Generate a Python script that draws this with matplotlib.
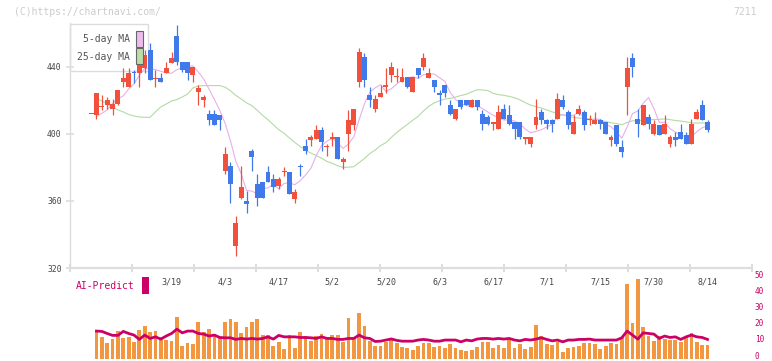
import numpy as np
import pandas as pd
import matplotlib
matplotlib.use("Agg")
import matplotlib.pyplot as plt
from matplotlib.patches import Rectangle
from matplotlib.transforms import ScaledTranslation

# daily candles, oldest first (last one is 8/14)
opens = [412, 411, 416, 417, 415, 418, 431, 428, 437, 436,
         439, 450, 433, 433, 436, 442, 458, 443, 443, 435,
         425, 420, 412, 412, 411, 378, 381, 333, 362, 360,
         390, 370, 371, 377, 373, 369, 377, 377, 361, 381,
         393, 396, 397, 402, 392, 397, 398, 383, 400, 405,
         431, 446, 423, 415, 422, 428, 435, 434, 431, 434,
         425, 439, 440, 433, 432, 424, 429, 417, 409, 420,
         420, 416, 420, 412, 410, 406, 403, 415, 411, 407,
         407, 397, 394, 405, 413, 408, 408, 409, 420, 413,
         400, 412, 413, 408, 406, 408, 407, 396, 405, 392,
         428, 445, 409, 405, 410, 400, 405, 400, 394, 398,
         401, 399, 394, 409, 417, 407]
highs = [412, 424, 423, 422, 421, 426, 439, 439, 438, 450,
         450, 454, 438, 436, 443, 449, 465, 443, 443, 440,
         429, 423, 414, 414, 411, 392, 383, 351, 381, 366,
         391, 376, 371, 381, 376, 374, 380, 377, 367, 382,
         397, 399, 405, 404, 394, 401, 398, 386, 414, 415,
         451, 448, 428, 423, 429, 439, 443, 439, 439, 434,
         434, 439, 448, 439, 432, 426, 429, 420, 415, 420,
         420, 421, 420, 414, 411, 407, 417, 418, 417, 407,
         407, 398, 398, 421, 415, 409, 409, 424, 423, 414,
         411, 417, 414, 411, 413, 409, 407, 399, 405, 396,
         446, 448, 415, 417, 412, 408, 405, 411, 399, 401,
         406, 401, 409, 415, 420, 408]
lows = [412, 409, 414, 415, 411, 417, 428, 428, 430, 428,
        436, 432, 428, 431, 436, 442, 441, 437, 432, 431,
        417, 416, 405, 405, 402, 376, 359, 327, 361, 353,
        378, 357, 362, 371, 365, 367, 375, 364, 359, 375,
        388, 393, 397, 390, 387, 393, 385, 379, 390, 402,
        428, 428, 416, 413, 422, 424, 431, 431, 431, 427,
        425, 433, 438, 433, 425, 417, 422, 411, 408, 415,
        417, 416, 414, 402, 405, 402, 403, 409, 405, 397,
        397, 394, 392, 403, 406, 403, 401, 409, 415, 403,
        400, 411, 402, 405, 406, 403, 400, 393, 393, 386,
        411, 434, 398, 405, 403, 399, 399, 400, 392, 393,
        397, 394, 394, 409, 408, 401]
closes = [412, 424, 416, 420, 418, 426, 433, 436, 436, 443,
          447, 432, 433, 431, 439, 445, 443, 438, 436, 440,
          427, 422, 408, 405, 408, 388, 370, 347, 368, 358,
          386, 362, 362, 371, 368, 373, 378, 364, 365, 380,
          390, 398, 402, 395, 393, 398, 385, 385, 408, 415,
          449, 432, 420, 421, 424, 429, 440, 434, 434, 428,
          434, 435, 445, 436, 428, 423, 424, 412, 415, 416,
          417, 420, 416, 406, 406, 407, 413, 409, 406, 403,
          398, 398, 398, 410, 408, 406, 406, 421, 416, 405,
          407, 415, 405, 409, 408, 406, 400, 398, 394, 389,
          439, 440, 406, 417, 406, 406, 399, 406, 398, 396,
          397, 394, 406, 413, 408, 402]

ma5_head = [410.2, 412.2, 414.2]
ma25_head = [421.1, 419.5, 417.7, 416.0, 414.2, 413.0, 411.5, 410.6, 410.0, 409.8,
             409.8, 413.0, 416.0, 417.7, 419.5, 420.4, 421.9, 423.7, 427.3, 428.5,
             428.7, 428.7, 428.7]

# lower panel, from day 1 on
volume = [17.7, 13.5, 9.8, 12.1, 17.1, 12.9, 13.3, 10.4, 17.7, 20.4,
          16.7, 17.1, 13.3, 11.5, 11.0, 25.8, 7.7, 9.6, 9.0, 22.7,
          16.3, 18.3, 15.2, 12.9, 22.7, 24.6, 22.7, 16.0, 19.6, 22.7,
          24.6, 14.6, 14.6, 7.7, 10.4, 5.8, 14.6, 6.5, 16.5, 13.8,
          11.0, 13.8, 15.2, 12.1, 14.6, 14.6, 10.4, 25.2, 13.3, 28.3,
          20.2, 11.0, 7.7, 7.7, 10.4, 12.0, 9.7, 6.9, 6.3, 5.2,
          7.7, 9.4, 9.4, 6.9, 7.7, 6.3, 9.0, 6.5, 5.6, 4.8,
          5.2, 6.9, 10.4, 10.4, 6.3, 8.3, 6.5, 11.5, 6.3, 9.0,
          5.8, 6.9, 20.8, 14.0, 9.0, 8.3, 10.4, 3.8, 6.5, 6.9,
          7.7, 9.8, 9.8, 9.0, 5.8, 7.7, 9.4, 9.0, 13.1, 46.5,
          22.3, 49.6, 19.8, 14.0, 11.0, 14.0, 11.9, 11.5, 11.5, 10.4,
          13.5, 16.0, 10.4, 8.5, 8.5]
ai_predict = [17.1, 16.9, 15.6, 14.4, 14.4, 16.9, 15.6, 14.6, 11.9, 14.6,
              12.5, 13.5, 12.1, 14.0, 15.6, 18.3, 16.0, 17.1, 17.1, 15.6,
              15.2, 14.0, 14.6, 13.1, 12.9, 12.9, 11.9, 12.5, 12.1, 12.5,
              12.1, 12.5, 13.5, 12.1, 14.4, 13.5, 13.5, 13.5, 13.1, 13.1,
              12.9, 12.5, 13.5, 12.5, 12.5, 11.9, 11.9, 12.5, 12.5, 14.6,
              12.9, 12.5, 10.6, 10.8, 11.5, 12.2, 11.3, 10.8, 10.8, 10.8,
              11.5, 11.9, 11.5, 10.8, 10.8, 11.5, 11.5, 11.5, 10.4, 11.5,
              11.0, 12.1, 12.5, 12.5, 12.1, 12.5, 12.1, 12.5, 11.5, 11.0,
              11.9, 11.5, 12.1, 12.9, 11.9, 11.0, 11.5, 10.4, 11.5, 11.5,
              11.9, 11.9, 12.1, 11.5, 11.5, 11.5, 11.5, 11.5, 12.9, 17.1,
              14.6, 12.1, 16.0, 15.6, 15.2, 12.5, 14.0, 13.1, 13.5, 11.9,
              13.5, 14.6, 13.5, 13.1, 11.9]

date_labels = ["3/19", "4/3", "4/17", "5/2", "5/20", "6/3",
               "6/17", "7/1", "7/15", "7/30", "8/14"]
date_pos = [15, 25, 35, 45, 55, 65, 75, 85, 95, 105, 115]
price_ticks = [320, 360, 400, 440]
vol_ticks = [0, 10, 20, 30, 40, 50]

RED = "#f0503c"
BLUE = "#3f79ea"
PINK = "#e8b0e8"
GREEN = "#b3dba3"
MAGENTA = "#cc0066"
ORANGE = "#f2963f"
GRID = "#dddddd"

plt.rcParams["font.family"] = ["DejaVu Sans Mono"]

W, H = 772, 361
def fx(px):
    return px / W
def fy(py):
    return 1 - py / H

xmin, xmax = -3.94, 123.3

fig = plt.figure(figsize=(W / 100, H / 100), dpi=100)
ax = fig.add_axes([fx(70), fy(268), fx(752) - fx(70), fy(23) - fy(268)])
ax.patch.set_visible(False)

days = np.arange(len(closes))
o = np.array(opens, float)
c = np.array(closes, float)
h = np.array(highs, float)
l = np.array(lows, float)
cols = np.where(c >= o, RED, BLUE)

cs = pd.Series(c)
ma5 = cs.rolling(5).mean()
ma5.iloc[1:4] = ma5_head
ma25 = cs.rolling(25).mean()
ma25.iloc[1:24] = ma25_head
ax.plot(days, ma25, color=GREEN, lw=0.8, zorder=2)
ax.plot(days, ma5, color=PINK, lw=0.8, zorder=2)

ax.vlines(days, l, h, colors=cols, lw=0.9, zorder=3)
body = np.maximum(np.abs(c - o), 0.6)
bottom = np.minimum(o, c) - (body - np.abs(c - o)) / 2
ax.bar(days, body, bottom=bottom, width=0.92, color=cols, linewidth=0, zorder=4)

ax.set_xlim(xmin, xmax)
ax.set_ylim(320, 466)
for s in ["top", "right"]:
    ax.spines[s].set_visible(False)
ax.spines["left"].set_color(GRID)
ax.spines["left"].set_linewidth(1.0)
ax.spines["bottom"].set_color(GRID)
ax.spines["bottom"].set_linewidth(1.6)
ax.set_yticks(price_ticks)
ax.tick_params(axis="y", direction="inout", length=6, width=1.2, color=GRID,
               labelsize=5.8, labelcolor="#444444", pad=3)
ax.set_xticks(np.linspace(xmin, xmax, 12))
ax.set_xticklabels([])
ax.tick_params(axis="x", direction="inout", length=6, width=1.4, color=GRID)
for p, t in zip(date_pos, date_labels):
    ax.text(p, -0.057, t, transform=ax.get_xaxis_transform(), ha="center",
            va="center", fontsize=6, color="#444444")

# legend box
ax.add_patch(Rectangle((fx(70), fy(71)), fx(148) - fx(70), fy(24) - fy(71),
                       transform=fig.transFigure, facecolor="white",
                       edgecolor=GRID, lw=1.0, zorder=1, clip_on=False))
ax.text(fx(130), fy(39.5), "5-day MA", transform=fig.transFigure, ha="right",
        va="center", fontsize=7, color="#555555", zorder=5)
ax.text(fx(130), fy(56.5), "25-day MA", transform=fig.transFigure, ha="right",
        va="center", fontsize=7, color="#555555", zorder=5)
ax.add_patch(Rectangle((fx(136), fy(46.5)), fx(7), fy(31) - fy(46.5),
                       transform=fig.transFigure, facecolor="#eebbee",
                       edgecolor="#666666", lw=0.8, zorder=5, clip_on=False))
ax.add_patch(Rectangle((fx(136), fy(63.5)), fx(7), fy(48) - fy(63.5),
                       transform=fig.transFigure, facecolor="#bbddaa",
                       edgecolor="#666666", lw=0.8, zorder=5, clip_on=False))

# volume / AI panel
vax = fig.add_axes([fx(70), fy(358.5), fx(752) - fx(70), fy(278.3) - fy(358.5)])
vax.patch.set_visible(False)
vdays = days[1:]
vax.bar(vdays, volume, width=0.7, color=ORANGE, linewidth=0, zorder=2)
vax.plot(vdays, ai_predict, color=MAGENTA, lw=2.0, zorder=3)
vax.set_xlim(xmin, xmax)
vax.set_ylim(0, 50)
for s in vax.spines.values():
    s.set_visible(False)
vax.set_xticks([])
vax.yaxis.tick_right()
vax.set_yticks(vol_ticks)
vax.tick_params(axis="y", length=0, pad=2, labelsize=5.6, labelcolor=MAGENTA)
lift = ScaledTranslation(0, 2.5 / 72, fig.dpi_scale_trans)
for lab in vax.get_yticklabels():
    lab.set_transform(lab.get_transform() + lift)

fig.text(fx(14), fy(12), "(C)https://chartnavi.com/", ha="left", va="center",
         fontsize=7, color="#cccccc")
fig.text(fx(757), fy(12), "7211", ha="right", va="center", fontsize=7,
         color="#cccccc")
fig.text(fx(76), fy(286), "AI-Predict", ha="left", va="center", fontsize=7,
         color=MAGENTA)
fig.patches.append(Rectangle((fx(142), fy(294)), fx(7), fy(277) - fy(294),
                             transform=fig.transFigure, facecolor=MAGENTA,
                             edgecolor="none", figure=fig))

fig.savefig("out.png", dpi=100)
